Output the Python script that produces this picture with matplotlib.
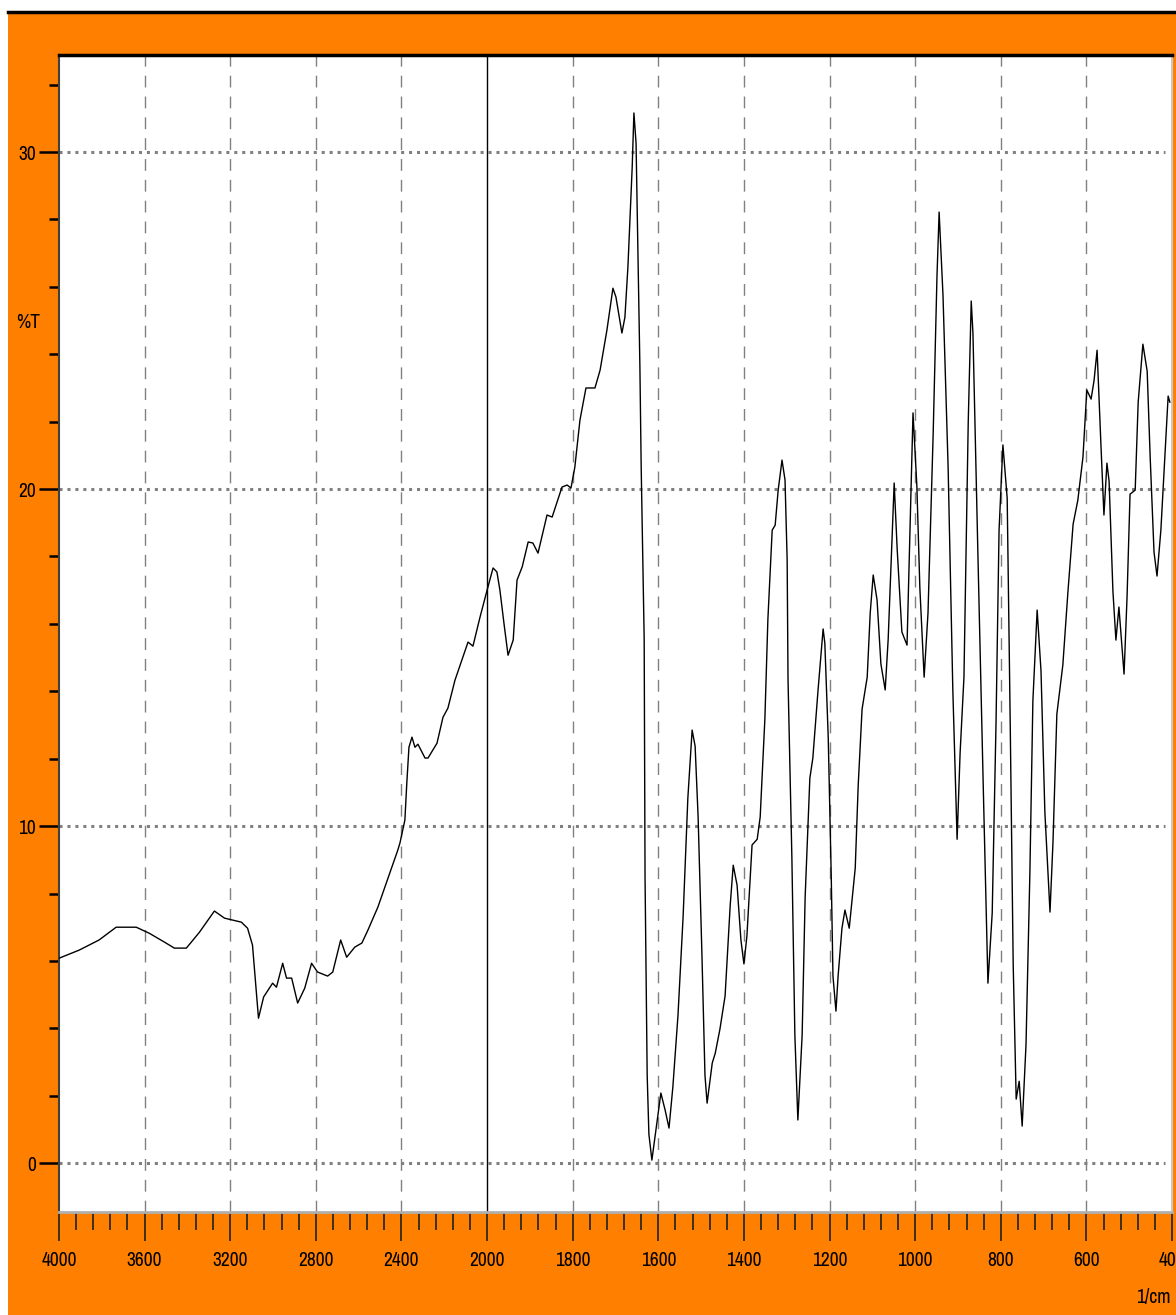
import numpy as np
import matplotlib
matplotlib.use("Agg")
import matplotlib.pyplot as plt
from matplotlib import font_manager
from matplotlib.patches import Rectangle
from matplotlib.lines import Line2D
from matplotlib.ticker import FixedLocator, NullFormatter

# FTIR spectrum
wavenumber = [
    4000, 3906, 3813, 3733, 3639, 3578, 3508, 3461, 3405, 3344, 3274, 3227, 3148, 3119,
    3096, 3068, 3044, 3002, 2984, 2955, 2937, 2913, 2885, 2852, 2820, 2792, 2745, 2721,
    2684, 2656, 2618, 2585, 2557, 2510, 2445, 2417, 2407, 2384, 2375, 2365, 2351, 2337,
    2323, 2290, 2276, 2234, 2206, 2183, 2150, 2113, 2089, 2066, 2033, 2000,
    1986, 1977, 1970, 1960, 1951, 1939, 1930, 1918, 1904, 1893, 1881, 1860, 1848, 1825,
    1813, 1804, 1795, 1783, 1769, 1748, 1736, 1720, 1706, 1699, 1685, 1678, 1671, 1661,
    1657, 1652, 1647, 1643, 1640, 1636, 1633, 1631, 1626, 1622, 1615, 1603, 1594, 1584,
    1575, 1566, 1554, 1542, 1531, 1521, 1514, 1507, 1498, 1491, 1486, 1474, 1467, 1456,
    1444, 1432, 1425, 1416, 1407, 1400, 1393, 1381, 1369, 1362, 1351, 1344, 1334, 1327,
    1320, 1311, 1304, 1299, 1297, 1288, 1281, 1274, 1264, 1257, 1246, 1239, 1227, 1215,
    1211, 1203, 1196, 1192, 1185, 1180, 1171, 1164, 1154, 1140, 1133, 1124, 1112, 1105,
    1098, 1089, 1080, 1070, 1063, 1054, 1049, 1042, 1031, 1019, 1012, 1005, 996, 989,
    979, 970, 958, 949, 944, 935, 923, 912, 902, 895, 886, 876, 869, 865, 853, 841,
    830, 820, 811, 804, 795, 785, 778, 771, 764, 757, 750, 741, 732, 725, 715, 706,
    697, 685, 678, 669, 655, 643, 631, 620, 608, 599, 589, 582, 575, 566, 559, 552,
    547, 538, 531, 524, 512, 505, 498, 486, 479, 468, 458, 451, 442, 435, 426, 419,
    409, 405,
]
transmittance = [
    6.08, 6.32, 6.62, 7.00, 7.00, 6.82, 6.56, 6.38, 6.38, 6.85, 7.48, 7.27, 7.15, 6.97,
    6.47, 4.30, 4.93, 5.34, 5.22, 5.93, 5.49, 5.49, 4.75, 5.19, 5.93, 5.67, 5.55, 5.67,
    6.62, 6.11, 6.41, 6.53, 6.91, 7.60, 8.78, 9.29, 9.50, 10.18, 11.28, 12.34, 12.64, 12.34,
    12.43, 12.02, 12.02, 12.46, 13.23, 13.50, 14.33, 15.01, 15.46, 15.34, 16.20, 17.00,
    17.66, 17.54, 17.00, 15.96, 15.07, 15.52, 17.30, 17.69, 18.43, 18.40, 18.10, 19.23, 19.17, 20.06,
    20.12, 20.03, 20.65, 22.05, 23.00, 23.00, 23.53, 24.72, 25.96, 25.70, 24.63, 25.10, 26.59, 29.55,
    31.16, 30.27, 26.59, 23.62, 20.65, 17.69, 15.55, 8.49, 2.61, 0.86, 0.09, 1.22, 2.08, 1.57,
    1.04, 2.26, 4.39, 7.33, 10.83, 12.85, 12.37, 10.27, 6.14, 2.61, 1.78, 2.97, 3.26, 3.98,
    4.96, 7.66, 8.84, 8.25, 6.62, 5.91, 6.74, 9.44, 9.61, 10.27, 13.20, 16.14, 18.78, 18.93,
    19.97, 20.86, 20.27, 17.89, 14.36, 9.08, 3.80, 1.28, 3.80, 7.89, 11.42, 12.02, 14.01, 15.85,
    15.43, 12.61, 8.49, 5.55, 4.51, 5.55, 6.97, 7.51, 6.97, 8.75, 11.22, 13.47, 14.42, 16.32,
    17.45, 16.71, 14.81, 14.04, 15.55, 18.58, 20.18, 18.22, 15.76, 15.37, 18.78, 22.26, 20.09, 17.06,
    14.42, 16.32, 21.60, 26.32, 28.22, 25.76, 20.65, 14.04, 9.61, 12.17, 14.42, 21.99, 25.58, 24.63, 17.83, 11.22,
    5.34, 7.42, 13.12, 18.78, 21.31, 19.73, 13.12, 5.91, 1.90, 2.43, 1.10, 3.53, 8.61, 13.71, 16.41, 14.60,
    10.42, 7.45, 9.53, 13.32, 14.78, 16.97, 18.96, 19.67, 20.95, 22.94, 22.67, 23.23, 24.12, 21.31, 19.23, 20.77,
    20.24, 16.97, 15.52, 16.50, 14.51, 16.80, 19.85, 19.97, 22.58, 24.30, 23.50, 20.95, 18.13, 17.42, 18.78, 20.42,
    22.76, 22.58,
]

x_major = [4000, 3600, 3200, 2800, 2400, 2000, 1800, 1600, 1400, 1200, 1000, 800, 600, 400]
x_minor = list(range(4000, 2000, -80)) + list(range(2000, 399, -40))
y_major = [0, 10, 20, 30]
y_minor = list(range(0, 33, 2))

ORANGE = "#ff8000"

# the reference uses a very narrow font; take a narrow one if there is any
narrow = None
for f in font_manager.fontManager.ttflist:
    if any(k in f.name for k in ("Narrow", "Condensed")):
        narrow = f.name
        break
FONT = narrow if narrow else "DejaVu Sans"
plt.rcParams["font.family"] = [FONT, "DejaVu Sans"]
LABEL_SIZE = 14


# above 2000 1/cm the axis is compressed by two; increasing in w, the axis is inverted by xlim
def fwd(w):
    w = np.asarray(w, dtype=float)
    return np.where(w >= 2000, (w - 2000) / 2.0, w - 2000)


def inv(p):
    p = np.asarray(p, dtype=float)
    return np.where(p >= 0, 2000 + 2 * p, 2000 + p)


fig = plt.figure(figsize=(11.76, 13.15), dpi=100, facecolor="white")
fig.patches.append(Rectangle((8 / 1176, 0), 1, 1302 / 1315, transform=fig.transFigure,
                             facecolor=ORANGE, edgecolor="none", zorder=-10))
fig.lines.append(Line2D([8 / 1176, 1], [1303 / 1315, 1303 / 1315], transform=fig.transFigure,
                        color="black", lw=2.5, zorder=-9))

ax = fig.add_axes([59 / 1176, 103 / 1315, 1113 / 1176, 1157 / 1315])
ax.set_zorder(1)
ax.set_facecolor("white")
ax.set_xscale("function", functions=(fwd, inv))
ax.set_xlim(4000, 400)
ax.set_ylim(-1.45, 32.88)

# grid
for w in x_major[1:-1]:
    if w == 2000:
        ax.axvline(w, color="black", lw=1.0, zorder=2)
    else:
        ax.axvline(w, color="#808080", lw=1.0, dashes=(8.5, 6.5), zorder=1)
for v in y_major:
    ax.axhline(v, xmin=0, xmax=0.994, color="#808080", lw=2.2, linestyle=(0, (1, 1.6)), zorder=1)

ax.plot(wavenumber, transmittance, color="black", lw=1.0, zorder=3)

ax.xaxis.set_major_locator(FixedLocator(x_major))
ax.xaxis.set_minor_locator(FixedLocator(x_minor))
ax.set_xticklabels([str(w) for w in x_major])
ax.xaxis.set_minor_formatter(NullFormatter())
ax.yaxis.set_major_locator(FixedLocator(y_major))
ax.yaxis.set_minor_locator(FixedLocator(y_minor))
ax.set_yticklabels([str(v) for v in y_major])

ax.tick_params(axis="x", which="major", direction="out", length=21, width=1.2,
               color="#202020", pad=7, labelsize=LABEL_SIZE)
ax.tick_params(axis="x", which="minor", direction="out", length=13, width=1.2, color="#202020")
ax.tick_params(axis="y", which="major", direction="out", length=14.5, width=1.8,
               color="black", pad=2, labelsize=LABEL_SIZE)
ax.tick_params(axis="y", which="minor", direction="out", length=7, width=1.8, color="black")

ax.spines["top"].set_color("black")
ax.spines["top"].set_linewidth(2.5)
ax.spines["left"].set_color("#404040")
ax.spines["left"].set_linewidth(1.5)
ax.spines["bottom"].set_color("#b0b0b0")
ax.spines["bottom"].set_linewidth(2.0)
ax.spines["right"].set_color("#c8c8c8")
ax.spines["right"].set_linewidth(1.5)

fig.text(28 / 1176, 1 - 323 / 1315, "%T", ha="center", va="center", fontsize=LABEL_SIZE)
fig.text(1171 / 1176, 1 - 1297 / 1315, "1/cm", ha="right", va="center", fontsize=LABEL_SIZE)

fig.savefig("out.png", dpi=100, facecolor=fig.get_facecolor())
